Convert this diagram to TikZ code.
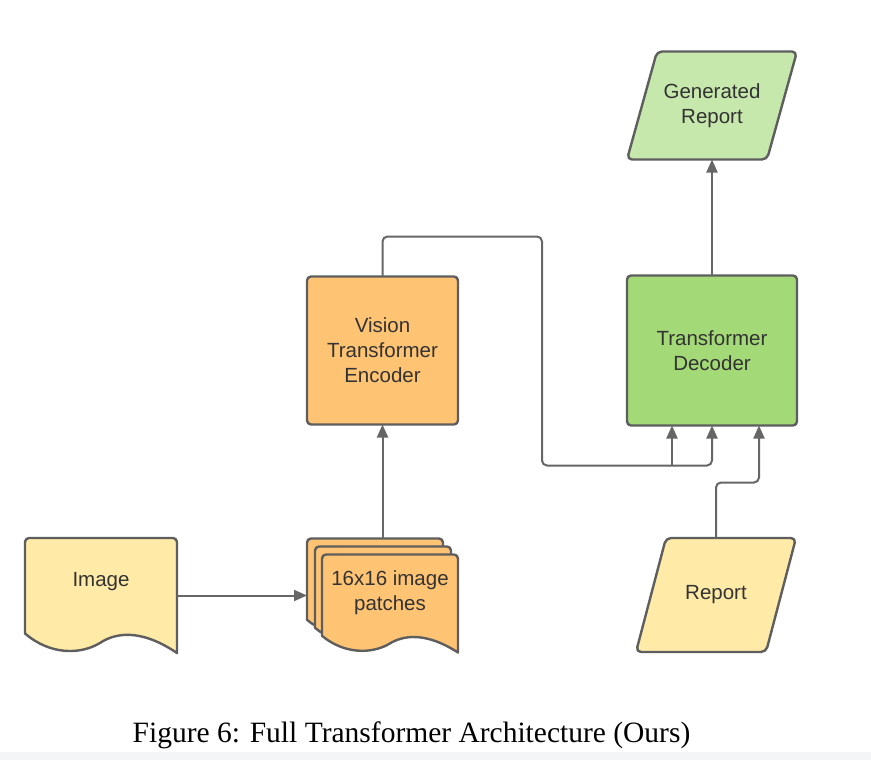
\documentclass[tikz,border=0pt]{standalone}
\usepackage{fontspec}
\setmainfont{Liberation Serif}
\setsansfont{Liberation Sans}
\usepackage{xcolor}
\definecolor{archOrange}{RGB}{255,195,116}
\definecolor{archGreen}{RGB}{163,217,119}
\definecolor{archLightGreen}{RGB}{199,232,172}
\definecolor{archYellow}{RGB}{255,234,167}
\definecolor{archLine}{RGB}{94,94,94}
\definecolor{archArrow}{RGB}{102,102,102}
\definecolor{archText}{RGB}{51,51,51}
\definecolor{archBand}{RGB}{244,245,247}
\usepackage{tikz}
\usetikzlibrary{arrows.meta,positioning,backgrounds}

% wavy document outline, top-left corner, width, height, fill
\newcommand{\docshape}[4]{%
  \begin{scope}[shift={#1}, xscale=#2, yscale=#3]
    \draw[shapeline, fill=#4] (0,0.5) [rounded corners=4pt] -- (0,0) -- (1,0) [sharp corners] -- (1,1)
      .. controls (0.757,0.783) and (0.592,0.826) .. (0.493,0.913)
      .. controls (0.362,1.017) and (0.164,1.017) .. (0,0.83) -- cycle;
  \end{scope}}
% slanted input/output outline round a node
\newcommand{\parashape}[3]{%
  \draw[shapeline, rounded corners=5pt, fill=#3]
    ([xshift=#2]#1.north west) -- ([xshift=#2]#1.north east)
    -- ([xshift=-#2]#1.south east) -- ([xshift=-#2]#1.south west) -- cycle;}

\begin{document}
\begin{tikzpicture}[
    x=1pt, y=-1pt,
    shapeline/.style={draw=archLine, line width=2.4pt, line join=round},
    archbox/.style={inner sep=0pt, outer sep=0pt, align=center, text=archText,
      font=\sffamily\fontsize{20.5}{25}\selectfont},
    blockbox/.style={archbox, shapeline, rounded corners=4pt},
    encoderbox/.style={blockbox, fill=archOrange, minimum width=151pt, minimum height=148pt},
    decoderbox/.style={blockbox, fill=archGreen, minimum width=170pt, minimum height=150pt},
    doctext/.style={archbox},
    arrow/.style={-{Triangle[length=13pt, width=11pt]}, line width=2pt, draw=archArrow},
  ]
    \useasboundingbox (0,0) rectangle (871,760);
    \fill[archBand] (0,752) rectangle (871,760);

    \node[archbox, minimum width=152pt, minimum height=115pt,
      label={[doctext, yshift=13.5pt]center:Image}] (image) at (101,595.5) {};
    \node[archbox, minimum width=151pt, minimum height=114pt, right=130pt of image,
      label={[doctext, xshift=7.5pt, yshift=2.5pt]center:16x16 image\\patches}] (patches) {};
    \node[encoderbox, above=114pt of patches] (encoder) {Vision\\Transformer\\Encoder};
    \node[decoderbox, right=169pt of encoder] (decoder) {Transformer\\Decoder};
    \node[archbox, minimum width=140pt, minimum height=108pt, above=116pt of decoder] (genrep) {Generated\\Report};
    \node[archbox, minimum width=130pt, minimum height=114pt, below=112.5pt of decoder, xshift=4pt] (report) {Report};

    \begin{scope}[on background layer]
      \docshape{(image.north west)}{152}{115}{archYellow}
      \docshape{(patches.north west)}{136}{98}{archOrange}
      \docshape{([shift={(8pt,-8pt)}]patches.north west)}{136}{98}{archOrange}
      \docshape{([shift={(15pt,-16pt)}]patches.north west)}{136}{98}{archOrange}
      \parashape{genrep}{15pt}{archLightGreen}
      \parashape{report}{15pt}{archYellow}
    \end{scope}

    \draw[arrow] (image) -- (patches);
    \draw[arrow] (patches) -- (encoder);
    \draw[arrow, rounded corners=5pt] (encoder.north) -- ++(0,-40)
      -| ([xshift=-170pt, yshift=-40pt]decoder.south) -| (decoder.south);
    \draw[arrow] ([xshift=-40pt, yshift=-40pt]decoder.south) -- ([xshift=-40pt]decoder.south);
    \draw[arrow, rounded corners=5pt] (report.north)
      |- ([xshift=47pt, yshift=-57pt]decoder.south) -- ([xshift=47pt]decoder.south);
    \draw[arrow] (decoder) -- (genrep);

    \node[font=\rmfamily\fontsize{29.5}{34}\selectfont] (caption) at (411.5,735)
      {Figure 6: Full Transformer Architecture (Ours)};
  \end{tikzpicture}
\end{document}
